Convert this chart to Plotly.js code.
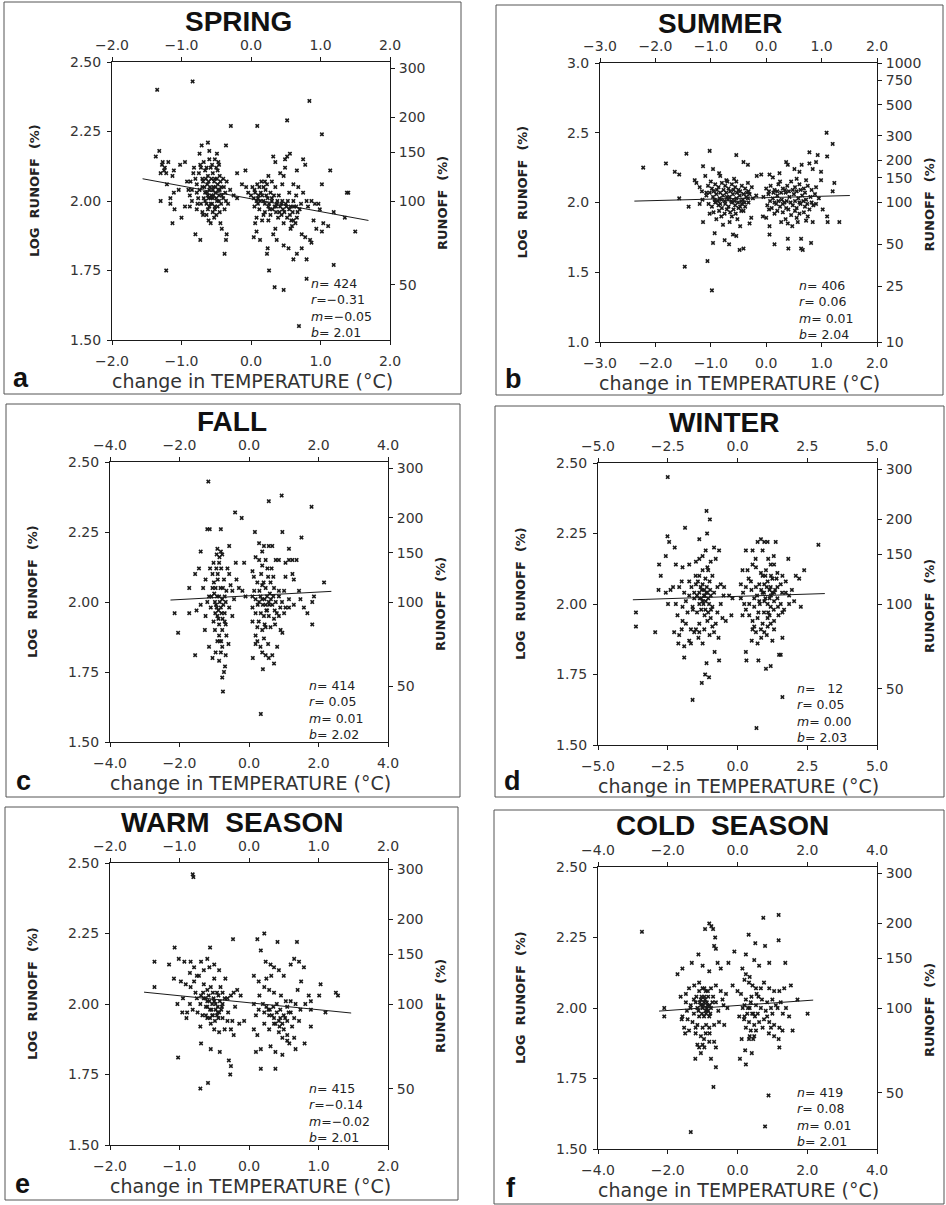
<!DOCTYPE html>
<html><head><meta charset="utf-8">
<script src="https://cdn.plot.ly/plotly-3.0.1.min.js"></script>
<style>body{margin:0;background:#fff}#chart{width:946px;height:1205px}</style>
</head><body><div id="chart"></div>
<script>
// ---------------- DATA ----------------
const panelTitles = ['SPRING','SUMMER','FALL','WINTER','WARM\u00a0\u00a0SEASON','COLD\u00a0\u00a0SEASON'];
const panelLetters = ['a','b','c','d','e','f'];

const tempTicksA = [-2,-1,0,1,2];
const tempTicksB = [-3,-2,-1,0,1,2];
const tempTicksC = [-4,-2,0,2,4];
const tempTicksD = [-5,-2.5,0,2.5,5];
const logTicks = [1.5,1.75,2.0,2.25,2.5];
const logTicksB = [1.0,1.5,2.0,2.5,3.0];
const runoffTicks = [50,100,150,200,300];
const runoffTicksB = [10,25,50,100,150,200,300,500,750,1000];

// stats: n, r, m, b
const springStats = ['424','\u22120.31','\u22120.05','2.01'];
const summerStats = ['406','0.06','0.01','2.04'];
const fallStats   = ['414','0.05','0.01','2.02'];
const winterStats = ['\u00a0\u00a012','0.05','0.00','2.03'];
const warmStats   = ['415','\u22120.14','\u22120.02','2.01'];
const coldStats   = ['419','0.08','0.01','2.01'];

// regression line end points [T], [logQ]
const springFitT = [-1.56,1.69], springFitQ = [2.08,1.93];
const summerFitT = [-2.38,1.51], summerFitQ = [2.01,2.05];
const fallFitT   = [-2.26,2.37], fallFitQ   = [2.007,2.038];
const winterFitT = [-3.75,3.13], winterFitQ = [2.015,2.037];
const warmFitT   = [-1.51,1.47], warmFitQ   = [2.042,1.968];
const coldFitT   = [-2.25,2.17], coldFitQ   = [1.989,2.028];

// points [change in temperature, log runoff]
const springPts = [
[-1.35,2.40],[-0.84,2.43],[0.84,2.36],[0.52,2.29],[-0.29,2.27],[0.09,2.27],[1.02,2.24],[-0.36,2.20],[-0.71,2.20],[-0.62,2.21],
[-1.32,2.18],[-1.37,2.16],[-1.28,2.13],[-1.25,2.11],[-1.22,2.10],[-1.30,2.10],[-1.27,2.14],[-1.24,2.12],[-1.19,2.14],[-1.02,2.13],[-0.95,2.14],
[-1.11,2.11],[-1.13,2.09],[-1.21,2.06],[-1.11,2.03],[-1.04,2.04],[-1.30,2.00],[-1.16,2.01],[-1.16,1.99],[-1.10,1.97],[-1.13,1.92],[-1.00,1.94],[-0.95,1.98],[-1.22,1.75],
[-0.74,2.17],[-0.60,2.18],[-0.49,2.17],[-0.47,2.14],[-0.73,2.13],[-0.83,2.10],[-0.87,2.07],[-0.78,2.03],[-0.85,2.00],[-0.88,1.98],[-0.78,1.97],
[-0.69,1.95],[-0.61,1.93],[-0.58,1.92],[-0.44,1.92],[-0.42,1.90],[-0.36,1.86],[-0.35,1.88],[-0.38,1.81],[-0.80,1.88],[-0.73,1.86],
[-0.35,2.07],[-0.20,2.10],[-0.08,2.11],[-0.25,2.02],[-0.20,2.01],[-0.13,2.06],[-0.07,2.05],[-0.04,2.03],
[-0.75,2.10],[-0.70,2.08],[-0.66,2.11],[-0.62,2.09],[-0.58,2.12],[-0.55,2.10],[-0.52,2.08],[-0.48,2.11],[-0.45,2.09],
[-0.78,2.06],[-0.74,2.04],[-0.70,2.05],[-0.66,2.03],[-0.63,2.06],[-0.60,2.04],[-0.57,2.02],[-0.54,2.05],[-0.51,2.03],[-0.48,2.06],[-0.45,2.04],[-0.42,2.02],[-0.39,2.05],
[-0.76,2.01],[-0.72,1.99],[-0.68,2.01],[-0.64,1.99],[-0.61,2.01],[-0.58,1.99],[-0.55,2.01],[-0.52,1.98],[-0.49,2.00],[-0.46,2.02],[-0.43,1.99],[-0.40,2.01],[-0.36,2.00],
[-0.70,1.96],[-0.62,1.97],[-0.55,1.96],[-0.50,1.95],[-0.45,1.96],[-0.38,1.97],[-0.85,2.04],[-0.88,2.02],[-0.92,2.07],[-0.30,2.04],[-0.33,1.99],
[-0.72,2.12],[-0.68,2.14],[-0.64,2.12],[-0.60,2.15],[-0.56,2.13],[-0.52,2.15],[-0.50,2.12],[-0.46,2.13],[-0.69,2.07],[-0.65,2.08],[-0.61,2.07],[-0.57,2.08],
[-0.53,2.07],[-0.49,2.08],[-0.44,2.07],[-0.67,2.05],[-0.63,2.03],[-0.59,2.05],[-0.55,2.04],[-0.51,2.05],[-0.47,2.04],[-0.43,2.05],[-0.66,2.00],[-0.62,2.02],
[-0.58,2.01],[-0.54,2.02],[-0.50,2.01],[-0.46,2.00],[-0.60,1.98],[-0.56,1.99],[-0.52,1.97],[-0.48,1.98],[-0.80,2.08],[-0.82,2.12],[-0.90,2.04],[-0.77,1.99],
[-0.40,2.08],[-0.37,2.03],[-0.53,1.94],[-0.64,1.95],
[0.04,2.01],[0.08,2.00],[0.11,2.02],[0.18,2.05],[0.20,2.07],[0.23,2.06],
[0.32,2.16],[0.35,2.14],[0.49,2.15],[0.52,2.16],[0.56,2.17],[0.66,2.11],[0.42,2.10],[0.47,2.09],[0.49,2.12],[0.61,2.06],[0.68,2.05],[0.75,2.15],[0.78,2.13],
[1.14,2.11],[1.02,2.06],[1.40,2.03],[1.38,2.03],[0.97,1.99],[0.99,1.97],[1.19,1.96],[1.35,1.94],[0.80,2.00],[0.87,2.00],[0.92,1.99],
[0.61,2.00],[0.51,1.98],[0.44,1.99],[0.37,1.99],[0.30,2.00],[0.25,1.98],[0.18,1.95],[0.08,1.94],[0.16,1.93],[0.06,1.92],[0.08,1.89],[0.13,1.86],
[0.25,1.93],[0.35,1.90],[0.32,1.88],[0.37,1.86],[0.47,1.84],[0.54,1.83],[0.24,1.83],[0.23,1.81],
[0.57,1.90],[0.59,1.91],[0.61,1.93],[0.66,1.94],[0.73,1.88],[0.78,1.87],[0.85,1.86],[0.87,1.85],[0.73,1.83],[0.66,1.81],[0.61,1.79],[0.80,1.79],
[0.90,1.93],[0.94,1.90],[1.02,1.89],[1.11,1.91],[1.04,1.92],[1.50,1.89],[1.19,1.77],[0.26,1.75],[0.34,1.69],[0.47,1.68],[0.69,1.55],[0.80,1.72],[0.04,1.87],
[0.00,2.02],[0.05,2.04],[0.10,2.01],[0.14,2.03],[0.18,2.00],[0.22,2.02],[0.26,1.99],[0.30,2.01],[0.34,1.98],[0.38,2.00],[0.42,1.98],[0.46,1.97],[0.50,1.99],[0.55,1.97],[0.60,1.96],[0.65,1.98],[0.70,1.97],
[0.12,1.97],[0.20,1.96],[0.28,1.95],[0.36,1.96],[0.44,1.95],[0.52,1.94],[0.58,1.93],
[0.15,2.07],[0.25,2.09],[0.35,2.05],[0.45,2.06],[0.55,2.03],[0.65,2.02],[0.75,2.03],[0.82,1.98],
[0.02,2.05],[0.06,2.03],[0.09,2.06],[0.13,2.00],[0.16,2.02],[0.20,1.99],[0.24,2.01],[0.28,2.03],[0.31,1.97],[0.33,2.02],[0.36,1.98],[0.40,2.02],
[0.41,1.96],[0.45,2.00],[0.48,1.96],[0.53,2.00],[0.57,1.98],[0.62,1.98],[0.67,1.96],[0.72,1.99],[0.10,1.99],[0.27,1.97],[0.39,1.94],[0.47,1.92],
[0.56,1.95],[0.21,2.04],[0.12,2.05],[0.30,2.07],[0.05,1.98],[0.64,1.92]
];

const summerPts = [
[-2.22,2.25],[-1.81,2.28],[-1.65,2.22],[-1.57,2.20],[-1.44,2.35],[-1.57,2.03],[-1.40,1.97],[-1.02,2.37],[-0.54,2.34],[-0.41,2.29],
[-1.14,2.26],[-1.10,2.19],[-0.96,2.24],[-0.85,2.21],[-0.83,2.19],[-1.29,2.16],[-1.26,2.14],[-1.20,2.11],[-1.16,2.08],[-1.08,2.07],
[-0.72,2.16],[-0.54,2.15],[-0.33,2.14],[-0.17,2.19],[-0.09,2.20],[-0.33,2.27],
[-1.14,1.86],[-0.93,1.78],[-0.96,1.71],[-0.75,1.73],[-0.67,1.70],[-0.60,1.77],[-0.54,1.76],[-0.41,1.67],[-0.48,1.66],
[-0.81,1.90],[-0.66,1.86],[-0.47,1.83],[-0.27,1.89],[-0.30,1.85],[-1.06,1.58],[-0.98,1.37],[-1.47,1.54],
[-1.05,2.12],[-0.98,2.10],[-0.92,2.13],[-0.86,2.11],[-0.80,2.14],[-0.74,2.12],[-0.68,2.10],[-0.62,2.13],[-0.56,2.11],[-0.50,2.09],[-0.44,2.12],[-0.38,2.10],[-0.32,2.08],[-0.26,2.11],
[-1.08,2.05],[-1.02,2.07],[-0.96,2.04],[-0.90,2.06],[-0.84,2.03],[-0.78,2.05],[-0.72,2.07],[-0.66,2.04],[-0.60,2.06],[-0.54,2.03],[-0.48,2.05],[-0.42,2.02],[-0.36,2.04],[-0.30,2.06],[-0.24,2.03],[-0.18,2.05],
[-1.04,1.99],[-0.98,1.97],[-0.92,2.00],[-0.86,1.98],[-0.80,1.96],[-0.74,1.99],[-0.68,1.97],[-0.62,2.00],[-0.56,1.98],[-0.50,1.96],[-0.44,1.99],[-0.38,1.97],[-0.32,2.00],
[-0.95,1.93],[-0.85,1.94],[-0.75,1.92],[-0.65,1.93],[-0.55,1.92],[-0.45,1.94],[-1.15,2.02],[-1.20,1.99],
[-0.95,2.08],[-0.89,2.09],[-0.83,2.07],[-0.77,2.09],[-0.71,2.04],[-0.65,2.08],[-0.59,2.09],[-0.53,2.07],[-0.47,2.08],[-0.41,2.06],[-0.35,2.07],[-0.93,2.02],
[-0.87,2.01],[-0.81,2.02],[-0.75,2.01],[-0.69,2.02],[-0.63,2.01],[-0.57,2.01],[-0.51,2.00],[-0.45,2.01],[-0.39,2.00],[-0.33,2.03],[-0.83,1.99],[-0.71,1.95],
[-0.59,1.95],[-0.47,1.97],[-0.41,1.94],[-1.00,2.15],[-0.70,2.15],[-0.58,2.17],[-0.90,1.88],[-0.78,1.84],[-0.62,1.90],[-0.52,1.88],[-1.02,1.92],
[0.06,2.20],[0.12,2.18],[0.24,2.21],[0.36,2.29],[0.39,2.27],[0.51,2.24],[0.64,2.27],[0.60,2.22],[0.78,2.28],[0.90,2.29],[0.84,2.24],
[0.78,2.36],[0.93,2.34],[1.10,2.33],[1.09,2.50],[1.20,2.42],[0.99,2.22],[0.99,2.16],[1.23,2.14],[1.20,2.08],
[1.02,1.95],[1.10,1.90],[1.11,1.86],[1.32,1.86],
[-0.06,1.90],[0.00,1.89],[0.06,1.83],[0.06,1.77],[0.15,1.70],[0.39,1.74],[0.63,1.74],[0.63,1.67],[0.81,1.71],[0.40,1.67],[0.66,1.66],
[0.27,1.86],[0.39,1.85],[0.47,1.83],[0.57,1.86],[0.72,1.87],[0.84,1.86],
[0.00,2.10],[0.08,2.12],[0.15,2.09],[0.22,2.13],[0.30,2.10],[0.38,2.12],[0.45,2.15],[0.52,2.11],[0.60,2.13],[0.68,2.10],[0.75,2.12],[0.82,2.09],[0.90,2.11],
[-0.05,2.04],[0.04,2.06],[0.12,2.03],[0.20,2.05],[0.28,2.02],[0.35,2.07],[0.42,2.04],[0.50,2.06],[0.58,2.03],[0.65,2.05],[0.72,2.02],[0.80,2.04],[0.88,2.06],[0.95,2.03],
[0.02,1.98],[0.10,1.96],[0.18,1.99],[0.25,1.97],[0.33,2.00],[0.40,1.95],[0.48,1.98],[0.55,1.96],[0.62,1.99],[0.70,1.97],[0.78,1.95],[0.85,1.98],
[0.15,1.92],[0.30,1.93],[0.45,1.91],[0.60,1.92],[0.75,1.90],
[0.05,2.08],[0.13,2.07],[0.20,2.08],[0.27,2.07],[0.34,2.09],[0.41,2.08],[0.48,2.09],[0.55,2.08],[0.62,2.09],[0.70,2.07],[0.07,2.01],[0.15,2.00],
[0.22,2.01],[0.30,1.99],[0.37,2.01],[0.44,2.00],[0.52,2.01],[0.60,2.00],[0.67,2.01],[0.74,1.99],[0.82,2.00],[0.90,1.99],[0.20,1.94],[0.36,1.96],
[0.52,1.94],[0.68,1.93],[0.25,2.15],[0.55,2.17],[0.72,2.16],[0.05,1.95],[0.35,1.88],[0.55,1.89]
];

const fallPts = [
[-1.17,2.43],[0.94,2.38],[0.57,2.36],[1.80,2.34],[-0.40,2.32],[-0.21,2.30],[-1.20,2.26],[-1.13,2.26],[-0.81,2.26],[0.17,2.25],[0.96,2.25],[1.51,2.23],
[-1.39,2.18],[-1.44,2.12],[-1.55,2.10],[-1.72,2.05],[-2.14,1.96],[-2.04,1.89],[-1.72,1.96],[-1.55,1.81],[-1.51,1.97],[-1.39,1.99],
[-0.91,2.19],[-0.81,2.18],[-0.77,2.17],[-0.86,2.14],[-0.94,2.12],[-1.05,2.10],[-1.01,2.07],[-0.96,2.05],[-0.86,2.02],[-0.77,2.01],[-0.67,2.00],
[-0.81,1.98],[-0.91,1.95],[-0.86,1.92],[-0.77,1.90],[-0.86,1.88],[-0.91,1.86],[-0.96,1.82],[-0.81,1.82],[-0.67,1.81],[-0.86,1.79],[-0.72,1.75],
[-0.77,1.73],[-0.75,1.68],[-0.69,1.77],[-0.59,1.85],[-0.67,1.92],[-1.05,2.05],[-1.15,2.02],[-1.20,2.00],[-1.10,1.98],[-1.25,1.95],[-1.27,1.90],
[-1.15,1.84],[-1.05,1.80],[-1.32,2.05],[-1.25,2.08],[-1.12,2.12],[-0.57,2.20],[-0.62,2.12],[-0.57,2.10],[-0.53,2.06],[-0.48,2.04],[-0.43,2.01],
[-0.57,1.98],[-0.48,1.95],[-0.38,2.14],[-0.36,2.08],[-0.29,2.05],[-0.19,2.04],[-0.10,2.02],[-0.14,2.14],
[-1.00,2.03],[-0.95,1.99],[-0.90,2.08],[-0.75,2.05],[-0.70,1.96],[-1.02,1.93],[-0.80,1.86],[-0.65,1.88],
[-0.98,2.00],[-0.93,1.98],[-0.88,1.97],[-0.84,2.00],[-0.79,1.96],[-0.74,1.99],[-0.70,2.02],[-0.92,2.02],[-1.08,2.02],[-0.97,1.96],[-0.88,1.94],[-0.76,1.94],
[-0.82,2.05],[-0.90,2.10],[-0.80,2.12],[-0.85,2.16],[-0.93,2.17],[-0.72,2.08],[-0.65,2.04],[-0.98,1.90],[-0.84,1.86],[-0.77,1.84],[-1.02,2.14],[-0.70,1.93],
[0.29,2.21],[0.43,2.20],[0.57,2.20],[0.67,2.20],[0.38,2.18],[0.19,2.16],[0.29,2.15],[0.48,2.15],[0.38,2.13],[0.53,2.12],[0.10,2.11],
[0.77,2.15],[0.86,2.15],[1.05,2.14],[1.15,2.15],[1.25,2.15],[1.15,2.19],[1.37,2.15],[1.05,2.09],[1.25,2.10],[1.29,2.08],
[0.14,2.09],[0.24,2.07],[0.38,2.06],[0.48,2.05],[0.62,2.07],[0.72,2.05],[0.86,2.04],[1.01,2.04],
[0.10,2.02],[0.19,2.01],[0.29,2.00],[0.38,2.01],[0.48,1.99],[0.57,2.00],[0.67,1.99],[0.77,2.00],[0.86,2.02],
[0.10,1.98],[0.19,1.96],[0.34,1.96],[0.43,1.95],[0.57,1.95],[0.72,1.94],[0.86,1.95],[1.01,1.96],[1.15,1.98],[1.29,1.99],
[0.10,1.93],[0.24,1.91],[0.38,1.90],[0.48,1.91],[0.19,1.88],[0.24,1.86],[0.43,1.87],[0.19,1.85],
[0.38,1.82],[0.48,1.81],[0.57,1.80],[0.67,1.81],[0.72,1.78],[0.11,1.80],[0.40,1.76],[0.81,1.84],[0.34,1.60],
[1.44,2.04],[1.48,2.01],[1.58,1.98],[1.68,1.96],[1.82,2.00],[1.87,2.02],[1.82,1.92],[2.16,2.07],
[1.05,1.98],[1.15,2.01],[0.96,1.89],[0.91,1.90],[0.60,2.03],[0.50,1.97],[0.30,2.04],[0.70,2.09],
[0.40,1.99],[0.45,2.01],[0.52,2.02],[0.58,1.99],[0.63,2.01],[0.70,2.02],[0.74,1.97],[0.52,1.97],[0.33,2.02],[0.25,1.99],[0.15,2.04],[0.42,2.07],
[0.55,2.09],[0.65,2.12],[0.35,2.10],[0.80,1.96],[0.90,1.98],[0.95,2.00],[0.28,1.93],[0.45,1.92],[0.62,1.91],[0.75,1.92],[0.33,1.84],[0.55,1.85]
];

const winterPts = [
[-2.50,2.45],[-1.11,2.33],[-0.99,2.30],[-1.09,2.25],[-1.88,2.27],[-2.51,2.24],[-2.45,2.22],[-1.37,2.23],[-2.57,2.17],[-2.25,2.20],[-2.81,2.14],
[2.90,2.21],[0.72,2.22],[0.84,2.23],[0.96,2.22],[1.08,2.22],[1.37,2.22],[0.30,2.19],[0.54,2.19],[0.90,2.19],[1.82,2.16],[2.39,2.12],[2.09,2.10],[2.21,2.09],[1.95,2.05],[2.27,1.99],
[-3.64,1.97],[-3.64,1.92],[-2.95,1.90],[-2.83,2.05],[-2.57,2.04],[-2.75,2.10],[-2.49,2.00],
[-2.21,2.14],[-1.97,2.13],[-1.73,2.14],[-1.49,2.15],[-1.37,2.16],[-1.25,2.17],[-1.14,2.19],[-0.84,2.20],[-0.66,2.19],[-0.78,2.16],[-0.96,2.15],[-1.08,2.13],[-1.25,2.12],[-1.37,2.10],
[-2.31,2.06],[-2.09,2.06],[-1.91,2.04],[-1.73,2.03],[-1.55,2.04],[-1.37,2.04],[-1.19,2.05],[-1.08,2.04],[-0.96,2.03],[-0.84,2.04],[-0.72,2.06],[-0.60,2.07],[-0.48,2.06],[-1.73,2.08],[-1.49,2.07],
[-2.21,2.00],[-1.97,1.99],[-1.79,1.97],[-1.61,1.99],[-1.37,2.00],[-1.25,2.01],[-1.14,2.01],[-1.02,2.00],[-0.90,1.99],[-0.72,1.97],[-0.54,1.95],[-0.42,1.94],[-0.30,2.03],[-0.18,2.02],
[-2.15,1.96],[-1.97,1.94],[-1.85,1.93],[-1.67,1.91],[-1.49,1.91],[-1.37,1.93],[-1.19,1.91],[-1.08,1.94],[-0.96,1.95],[-0.78,1.93],[-0.84,1.90],[-0.68,1.88],
[-2.27,1.90],[-2.09,1.89],[-2.12,1.86],[-1.91,1.85],[-1.73,1.87],[-1.67,1.86],[-1.55,1.90],[-1.37,1.90],
[-1.91,1.81],[-0.82,1.83],[-0.66,1.80],[-1.11,1.79],[-1.16,1.75],[-1.02,1.74],[-1.28,1.72],[-1.61,1.66],[-0.22,1.96],
[-1.30,2.02],[-1.20,2.03],[-1.10,2.06],[-1.00,2.08],[-1.15,1.98],[-1.05,1.97],[-1.25,2.07],[-0.90,2.10],
[-1.55,2.02],[-1.45,2.03],[-1.35,2.02],[-1.28,2.05],[-1.22,2.00],[-1.18,2.03],[-1.12,2.04],[-1.05,2.02],[-0.98,2.05],[-1.50,2.10],[-1.42,2.08],[-1.32,2.06],
[-1.15,2.09],[-1.05,2.12],[-1.65,2.06],[-1.60,1.98],[-1.45,1.97],[-1.30,1.98],[-1.18,1.96],[-0.95,1.98],[-1.85,2.01],[-2.00,2.08],[-1.40,1.88],[-1.25,1.86],
[-1.00,1.89],[-0.60,2.00],[-0.50,2.03],[-2.40,2.05],[-2.00,1.91],[-0.90,1.92],
[0.18,2.12],[0.36,2.12],[0.54,2.14],[0.66,2.13],[0.84,2.11],[1.02,2.12],[1.19,2.14],[1.31,2.14],[1.43,2.11],[1.61,2.10],[1.73,2.08],
[0.12,2.07],[0.30,2.06],[0.48,2.08],[0.66,2.06],[0.78,2.07],[0.96,2.07],[1.08,2.08],[1.19,2.06],[1.31,2.04],[1.43,2.06],[1.55,2.07],[1.73,2.04],[1.85,2.03],
[0.12,2.02],[0.24,2.00],[0.42,2.00],[0.60,1.99],[0.78,2.01],[0.96,2.01],[1.08,2.00],[1.19,1.99],[1.31,2.01],[1.43,2.02],[1.55,2.00],[1.67,1.98],[1.85,2.00],[2.03,2.01],
[0.18,1.96],[0.42,1.96],[0.54,1.94],[0.72,1.95],[0.90,1.93],[1.08,1.95],[1.19,1.93],[1.31,1.94],[1.47,1.96],[1.61,1.97],
[0.54,1.91],[0.66,1.90],[0.84,1.91],[0.96,1.90],[1.08,1.92],[1.31,1.91],
[0.51,1.87],[0.72,1.86],[0.30,1.83],[0.32,1.80],[0.75,1.80],[1.02,1.77],[1.19,1.78],[1.49,1.82],[1.61,1.88],[1.61,1.67],[0.68,1.56],[1.55,1.82],
[0.90,2.04],[1.00,2.10],[1.20,2.03],[1.10,1.97],[0.70,2.03],[1.25,2.09],
[0.85,2.05],[0.95,2.04],[1.05,2.06],[1.15,2.05],[1.25,2.04],[1.35,2.05],[0.80,2.00],[1.00,2.02],[1.15,2.02],[1.30,1.98],[1.45,1.99],[0.60,2.02],
[0.50,2.05],[0.40,2.09],[0.90,2.10],[1.20,2.10],[1.40,2.09],[0.75,1.97],[0.95,1.97],[1.15,1.96],[0.60,1.92],[0.85,1.88],[1.05,1.89],[1.25,1.87],
[0.30,1.98],[0.20,2.04],[1.60,2.04],[1.10,2.16],[1.30,2.17],[0.65,2.16]
];

const warmPts = [
[-0.81,2.46],[-0.80,2.45],[-0.23,2.23],[0.22,2.25],[0.12,2.23],[0.17,2.19],[0.41,2.22],[0.69,2.22],[-0.56,2.20],[-1.07,2.20],
[-1.36,2.15],[-1.36,2.06],[-1.15,2.14],[-1.01,2.16],[-0.93,2.15],[-0.84,2.15],[-0.79,2.13],[-0.69,2.15],[-0.60,2.16],[-0.50,2.14],[-0.57,2.13],[-0.43,2.12],
[-1.08,2.09],[-0.98,2.08],[-0.91,2.07],[-0.84,2.06],[-0.77,2.04],[-0.69,2.03],[-0.65,2.02],[-0.60,2.01],[-0.53,2.00],[-0.48,1.98],[-0.43,1.97],[-0.38,2.00],[-0.31,2.02],[-0.26,2.03],[-0.22,2.04],[-0.17,2.05],[-0.12,2.03],
[-1.03,2.00],[-0.96,1.97],[-0.89,1.97],[-0.81,1.98],[-0.74,1.97],[-0.67,1.96],[-0.60,1.95],[-0.53,1.96],[-0.46,1.96],[-0.38,1.95],[-0.31,1.94],[-0.24,1.94],
[-0.55,1.93],[-0.50,1.91],[-0.43,1.90],[-0.26,1.91],[-0.22,1.89],[-0.14,1.93],[-0.07,1.94],
[-0.69,1.86],[-0.55,1.84],[-0.42,1.83],[-0.29,1.80],[-0.26,1.78],[-0.27,1.75],[-1.02,1.81],[-0.70,1.70],[-0.59,1.72],
[-0.79,2.08],[-0.72,2.10],[-0.65,2.07],[-0.55,2.06],[-0.46,2.04],[-0.41,2.06],[-0.50,2.09],[-0.34,2.09],
[-0.62,1.99],[-0.56,1.98],[-0.50,2.01],[-0.45,1.99],[-0.40,1.98],[-0.58,2.03],[-0.70,2.00],[-0.35,2.02],
[-0.63,2.02],[-0.60,1.99],[-0.57,2.01],[-0.54,1.98],[-0.51,2.02],[-0.48,2.00],[-0.45,1.97],[-0.42,2.01],[-0.39,1.99],[-0.62,1.96],[-0.56,1.95],[-0.49,1.94],
[-0.44,1.95],[-0.52,1.96],[-0.66,2.04],[-0.60,2.05],[-0.52,2.04],[-0.44,2.03],[-0.38,2.04],[-0.75,2.02],[-0.85,2.00],[-0.90,1.95],[-0.95,2.02],[-0.30,1.97],
[-0.20,1.99],[-0.85,2.11],[-0.75,2.10],[-0.65,2.12],[-0.35,1.91],[-0.70,1.92],
[0.07,2.10],[0.14,2.08],[0.22,2.06],[0.29,2.05],[0.36,2.04],[0.46,2.03],[0.53,2.01],[0.60,2.01],[0.67,2.00],[0.74,1.98],[0.81,2.00],[0.89,2.01],
[0.07,2.00],[0.14,1.98],[0.22,1.97],[0.29,1.96],[0.36,1.95],[0.43,1.94],[0.50,1.96],[0.57,1.97],[0.65,1.95],[0.72,1.94],
[0.22,1.93],[0.29,1.91],[0.36,1.93],[0.43,1.90],[0.50,1.91],[0.55,1.89],[0.65,1.88],[0.07,1.91],[0.12,1.89],
[0.10,1.83],[0.17,1.84],[0.31,1.85],[0.38,1.83],[0.48,1.82],[0.55,1.87],[0.67,1.84],[0.17,1.77],[0.38,1.77],[0.80,1.86],
[0.24,2.15],[0.31,2.14],[0.36,2.13],[0.43,2.12],[0.50,2.10],[0.60,2.14],[0.65,2.16],[0.72,2.15],[0.79,2.13],
[0.86,2.03],[0.89,1.98],[1.01,2.03],[1.03,2.07],[1.10,1.97],[1.25,2.04],[1.28,2.03],[0.89,1.92],
[0.30,1.98],[0.40,1.97],[0.45,1.95],[0.35,1.99],[0.25,1.99],[0.55,1.94],
[0.40,2.00],[0.45,1.98],[0.48,1.93],[0.52,1.95],[0.44,1.92],[0.38,1.93],[0.33,1.96],[0.28,1.98],[0.55,1.99],[0.60,1.97],[0.20,2.00],[0.15,2.03],
[0.10,1.96],[0.70,2.05],[0.75,2.08],[0.25,2.09],[0.32,2.10],[0.62,1.92],[0.48,1.88],[0.58,1.86]
];

const coldPts = [
[-2.74,2.27],[-0.81,2.30],[-0.75,2.29],[-0.70,2.28],[-0.64,2.25],[-0.62,2.21],[-0.67,2.22],[-0.93,2.28],[0.74,2.32],[1.18,2.33],
[0.32,2.26],[0.51,2.23],[0.79,2.22],[1.18,2.24],[-0.09,2.20],[0.24,2.19],[0.48,2.17],[0.62,2.15],[0.91,2.16],[1.37,2.16],
[-1.12,2.19],[-1.31,2.16],[-1.58,2.14],[-1.72,2.12],[-1.00,2.15],[-0.81,2.13],[-0.57,2.16],[-0.48,2.14],[-0.26,2.16],
[-2.10,2.00],[-2.10,1.97],[-1.63,2.04],[-1.48,2.05],
[-1.39,2.07],[-1.24,2.08],[-1.10,2.09],[-1.00,2.07],[-0.91,2.06],[-0.76,2.07],[-0.62,2.08],[-0.48,2.06],[-0.33,2.05],
[-1.48,2.02],[-1.34,2.01],[-1.20,2.02],[-1.05,2.03],[-0.96,2.02],[-0.86,2.01],[-0.76,2.00],[-0.62,2.02],[-0.43,2.03],[-0.29,2.00],
[-1.58,1.97],[-1.43,1.96],[-1.29,1.95],[-1.15,1.94],[-1.00,1.93],[-0.91,1.91],[-0.81,1.93],[-0.67,1.94],[-0.53,1.95],[-0.38,1.94],
[-1.53,1.93],[-1.39,1.92],[-1.20,1.91],[-1.05,1.90],[-0.96,1.89],[-0.81,1.88],
[-1.15,1.87],[-1.10,1.86],[-1.00,1.87],[-0.67,1.88],[-0.62,1.86],[-1.21,1.82],[-0.76,1.82],[-0.62,1.79],[-0.69,1.72],[-1.34,1.56],
[-1.10,1.97],[-1.00,2.00],[-0.91,1.99],[-0.81,1.97],[-1.05,2.01],[-0.95,2.04],[-0.88,2.00],[-1.15,2.00],[-0.70,2.04],[-1.25,1.98],
[-1.08,2.02],[-1.03,2.04],[-0.98,2.01],[-0.93,2.03],[-0.88,2.02],[-0.84,2.04],[-0.80,2.01],[-1.12,1.99],[-1.02,1.98],[-0.96,1.97],[-0.90,1.98],[-0.84,1.99],
[-0.78,1.98],[-1.18,2.04],[-1.10,2.06],[-0.95,2.07],[-0.85,2.06],[-0.72,2.02],[-1.25,2.03],[-1.35,2.00],[-1.45,1.99],[-1.60,1.96],[-1.50,1.91],[-0.90,1.94],
[-0.80,1.91],[-1.20,1.93],[-0.95,1.86],[-1.05,1.84],[-0.55,1.99],[-0.40,2.01],
[0.14,2.14],[0.24,2.12],[0.33,2.09],[0.43,2.08],[0.53,2.07],[0.67,2.07],[0.76,2.09],[0.91,2.07],[1.05,2.06],[1.20,2.06],[1.34,2.07],[1.53,2.08],
[-0.14,2.08],[0.00,2.06],[0.10,2.05],[0.24,2.03],[0.38,2.02],[0.53,2.01],[0.67,2.00],[0.81,1.99],[0.96,2.00],[1.10,2.01],[1.24,2.02],[1.39,2.00],[1.48,1.97],[1.72,2.03],[2.01,1.98],
[0.05,1.97],[0.19,1.96],[0.33,1.95],[0.48,1.94],[0.62,1.95],[0.76,1.96],[0.91,1.95],[1.05,1.94],[1.20,1.93],
[0.24,1.93],[0.38,1.92],[0.53,1.92],[0.72,1.93],[0.96,1.93],[1.29,1.92],[1.58,1.92],
[0.12,1.89],[0.33,1.89],[0.48,1.90],[0.22,1.85],[0.41,1.84],[0.07,1.82],[0.24,1.80],[1.18,1.89],[1.20,1.86],[0.89,1.69],[0.79,1.58],
[0.30,2.00],[0.45,1.98],[0.85,1.97],[1.00,1.98],[0.60,2.04],[0.20,2.01],
[0.35,2.00],[0.42,1.98],[0.50,1.97],[0.58,1.98],[0.28,1.98],[0.20,1.97],[0.15,2.00],[0.40,2.04],[0.55,2.05],[0.70,2.03],[0.85,2.02],[1.00,2.03],
[1.15,2.00],[1.30,1.98],[0.90,1.91],[1.05,1.90],[0.35,1.90],[0.45,1.89],[0.20,2.10],[0.35,2.11]
];

// ---------------- LAYOUT HELPERS ----------------
const W = 946, H = 1205;
const panels = [
  {pts:springPts, fitT:springFitT, fitQ:springFitQ, stats:springStats, xt:tempTicksA, yt:logTicks, yfmt:'.2f', rt:runoffTicks,
   box:[112,62,390,340], frame:[4,2,461,394], tpos:[239,21]},
  {pts:summerPts, fitT:summerFitT, fitQ:summerFitQ, stats:summerStats, xt:tempTicksB, yt:logTicksB, yfmt:'.1f', rt:runoffTicksB,
   box:[600,63,877,342], frame:[496,5,943,395], tpos:[720,23]},
  {pts:fallPts, fitT:fallFitT, fitQ:fallFitQ, stats:fallStats, xt:tempTicksC, yt:logTicks, yfmt:'.2f', rt:runoffTicks,
   box:[110,462,388,742], frame:[6,404,460,797], tpos:[232,421]},
  {pts:winterPts, fitT:winterFitT, fitQ:winterFitQ, stats:winterStats, xt:tempTicksD, yt:logTicks, yfmt:'.2f', rt:runoffTicks,
   box:[598,463,877,745], frame:[495,406,944,797], tpos:[724,422]},
  {pts:warmPts, fitT:warmFitT, fitQ:warmFitQ, stats:warmStats, xt:tempTicksA, yt:logTicks, yfmt:'.2f', rt:runoffTicks,
   box:[110,863,388,1145], frame:[5,807,458,1200], tpos:[232,822]},
  {pts:coldPts, fitT:coldFitT, fitQ:coldFitQ, stats:coldStats, xt:tempTicksC, yt:logTicks, yfmt:'.2f', rt:runoffTicks,
   box:[598,867,877,1149], frame:[494,810,944,1204], tpos:[722,825]}
];

const INK = '#1a1a1a';
const SANS = 'DejaVu Sans, Verdana, sans-serif';
const tickFont = {family:SANS, size:14, color:'#333'};
const titleFamily = 'Liberation Sans Narrow, Arial Narrow, Liberation Sans, Arial, sans-serif';
const px = x => x / W;
const py = y => 1 - y / H;
const axId = (c, n) => n === 1 ? c : c + n;
const axKey = (c, n) => n === 1 ? c + 'axis' : c + 'axis' + n;

const traces = [];
const layout = {
  width: W, height: H, margin: {l:0, r:0, t:0, b:0},
  paper_bgcolor: '#fff', plot_bgcolor: 'rgba(0,0,0,0)',
  showlegend: false, annotations: [], shapes: []
};

const baseAxis = {
  showline:true, linecolor:INK, linewidth:1, ticks:'outside', ticklen:4, tickwidth:1, tickcolor:INK,
  showgrid:false, zeroline:false, tickfont:tickFont, fixedrange:true
};

panels.forEach((p, i) => {
  const a = 2*i + 1, b = 2*i + 2;
  const [x0, y0, x1, y1] = p.box;
  const xd = [px(x0), px(x1)], yd = [py(y1), py(y0)];
  const xr = [p.xt[0], p.xt[p.xt.length-1]];
  const yr = [p.yt[0], p.yt[p.yt.length-1]];

  layout[axKey('x', a)] = Object.assign({}, baseAxis, {domain:xd, range:xr, tickvals:p.xt, tickformat:'.1f',
    anchor:axId('y', a), side:'bottom', ticklabelstandoff:4});
  layout[axKey('x', b)] = Object.assign({}, baseAxis, {domain:xd, range:xr, tickvals:p.xt, tickformat:'.1f',
    anchor:axId('y', a), overlaying:axId('x', a), side:'top', ticklabelstandoff:1});
  layout[axKey('y', a)] = Object.assign({}, baseAxis, {domain:yd, range:yr, tickvals:p.yt, tickformat:p.yfmt,
    anchor:axId('x', a), side:'left', ticklabelstandoff:3});
  layout[axKey('y', b)] = Object.assign({}, baseAxis, {domain:yd, type:'log', range:yr, tickvals:p.rt,
    ticktext:p.rt.map(String), anchor:axId('x', a), overlaying:axId('y', a), side:'right', ticklabelstandoff:1});

  traces.push({type:'scatter', mode:'markers', x:p.pts.map(d=>d[0]), y:p.pts.map(d=>d[1]),
    xaxis:axId('x', a), yaxis:axId('y', a), cliponaxis:true,
    marker:{symbol:'x', size:4, color:INK, line:{width:0}}, hoverinfo:'x+y'});
  traces.push({type:'scatter', mode:'lines', x:p.fitT, y:p.fitQ, xaxis:axId('x', a), yaxis:axId('y', a),
    line:{color:INK, width:1}, hoverinfo:'skip'});
  traces.push({type:'scatter', mode:'markers', x:[null], y:[null], xaxis:axId('x', b), yaxis:axId('y', b),
    hoverinfo:'skip', marker:{opacity:0}});

  // frame
  const [f0, g0, f1, g1] = p.frame;
  layout.shapes.push({type:'rect', xref:'paper', yref:'paper', x0:px(f0), x1:px(f1), y0:py(g1), y1:py(g0),
    line:{color:'#555', width:1}});

  const cx = (x0 + x1) / 2;
  const ann = (x, y, text, font, extra) => layout.annotations.push(Object.assign({
    xref:'paper', yref:'paper', x:px(x), y:py(y), text, showarrow:false, font,
    xanchor:'center', yanchor:'middle'}, extra || {}));

  // panel title
  ann(p.tpos[0], p.tpos[1], '<b>' + panelTitles[i] + '</b>', {family:titleFamily, size:28, color:'#111'}, {borderpad:0});
  // panel letter
  ann(f0 + 17, g1 - 16, '<b>' + panelLetters[i] + '</b>', {family:'Liberation Sans, Arial, sans-serif', size:27, color:'#111'});
  // x title
  ann(cx + 1, y1 + 41, 'change in TEMPERATURE (\u00b0C)', {family:SANS, size:19, color:'#333'});
  // left y title
  ann(x0 - 78, (y0 + y1) / 2 - 10, '<b>LOG\u00a0\u00a0RUNOFF\u00a0\u00a0(%)</b>', {family:SANS, size:13, color:'#222'}, {textangle:-90});
  // right y title
  ann(x1 + 52, (y0 + y1) / 2 + 2, '<b>RUNOFF\u00a0\u00a0(%)</b>', {family:SANS, size:13, color:'#222'}, {textangle:-90});
  // stats block
  const labels = ['n','r','m','b'];
  const lines = p.stats.map((v, k) => '<i>' + labels[k] + '</i>' + (v.startsWith('\u2212') ? '=' : '=\u00a0') + v);
  ann(x0 + 198, y1 - 65, lines.join('<br>'), {family:SANS, size:12.5, color:'#222'},
    {xanchor:'left', yanchor:'top', align:'left', borderpad:0});
});

Plotly.newPlot('chart', traces, layout, {staticPlot:true, displayModeBar:false});
</script>
</body></html>
